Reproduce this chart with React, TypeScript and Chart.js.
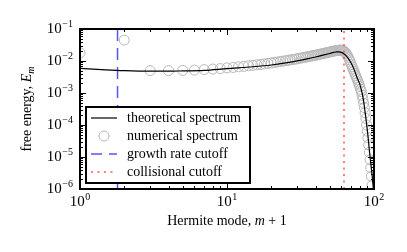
import React, { useEffect, useRef } from "react";
import { Chart, registerables } from "chart.js";

Chart.register(...registerables);

// ---- data ----
const numericalModes = [
  1, 2, 3, 4, 5, 6, 7, 8, 9, 10, 11, 12, 13, 14, 15, 16, 17, 18, 19, 20,
  21, 22, 23, 24, 25, 26, 27, 28, 29, 30, 31, 32, 33, 34, 35, 36, 37, 38, 39, 40,
  41, 42, 43, 44, 45, 46, 47, 48, 49, 50, 51, 52, 53, 54, 55, 56, 57, 58, 59, 60,
  61, 62, 63, 64, 65, 66, 67, 68, 69, 70, 71, 72, 73, 74, 75, 76, 77, 78, 79, 80,
  81, 82, 83, 84, 85, 86, 87, 88, 89, 90, 91, 92, 93, 94, 95, 96, 97, 98,
];
const numericalSpectrum = [
  0.018, 0.045, 0.005, 0.005, 0.0051, 0.0052, 0.0054, 0.0056, 0.0058, 0.0061,
  0.0063, 0.0066, 0.0068, 0.0071, 0.0073, 0.0076, 0.0078, 0.0081, 0.0084, 0.0087,
  0.009, 0.0093, 0.0096, 0.0099, 0.0102, 0.0105, 0.0108, 0.0111, 0.0114, 0.0117,
  0.0121, 0.0124, 0.0128, 0.0131, 0.0135, 0.0138, 0.0141, 0.0145, 0.0148, 0.0151,
  0.0155, 0.0159, 0.0163, 0.0167, 0.0171, 0.0175, 0.0179, 0.0183, 0.0187, 0.0191,
  0.0195, 0.0199, 0.0203, 0.0207, 0.021, 0.0213, 0.0216, 0.0218, 0.0219, 0.0218,
  0.0214, 0.0207, 0.0196, 0.0182, 0.0165, 0.0147, 0.0128, 0.011, 0.0093, 0.0078,
  0.0066, 0.0056, 0.0048, 0.0041, 0.0035, 0.003, 0.0026, 0.0022, 0.0019, 0.0016,
  0.0013, 0.0011, 0.00085, 0.00065, 0.00048, 0.00035, 0.00024, 0.00016, 0.0001, 0.000064,
  0.00004, 0.000024, 0.000014, 0.0000082, 0.0000046, 0.0000025, 0.0000013, 0.0000007,
];
const theoryModes = [
  1, 1.5, 2, 3, 4, 5, 7, 10, 15, 20, 25, 30, 35, 40, 45, 50, 53, 56, 58, 60,
  62, 64, 66, 68, 70, 72, 74, 77, 80, 83, 85, 87, 89, 91, 93, 95, 97, 99, 100,
];
const theorySpectrum = [
  0.0059, 0.0053, 0.005, 0.0048, 0.0048, 0.0049, 0.0051, 0.0058, 0.0066, 0.0075,
  0.0087, 0.0101, 0.0116, 0.0133, 0.0152, 0.0172, 0.0185, 0.0194, 0.0193, 0.0186,
  0.0172, 0.0152, 0.013, 0.0107, 0.0085, 0.0065, 0.0048, 0.0029, 0.0019, 0.001,
  0.00055, 0.00025, 0.00011, 0.000045, 0.000016, 0.0000065, 0.0000028, 0.000001, 0.0000006,
];
const growthRateCutoff = 1.8;
const collisionalCutoff = 62.5;

const xRange = [1, 100];
const yRange = [1e-6, 1e-1];
const xTickValues = [1, 10, 100];
const xTickExponents = ["0", "1", "2"];
const yTickValues = [1e-6, 1e-5, 1e-4, 1e-3, 1e-2, 1e-1];
const yTickExponents = ["\u22126", "\u22125", "\u22124", "\u22123", "\u22122", "\u22121"];
const seriesLabels = [
  "theoretical spectrum",
  "numerical spectrum",
  "growth rate cutoff",
  "collisional cutoff",
];

// ---- styles ----
const SERIF = '"Liberation Serif", "DejaVu Serif", serif';
const GREY = "#b8b8b8";
const BLUE = "#5555ff";
const RED = "#ff5555";
const BLUE_DASH = [12, 7];
const RED_DASH = [2, 4.5];

function drawPower(ctx: CanvasRenderingContext2D, exp: string, x: number, baseline: number, align: "center" | "right") {
  const baseFont = `15px ${SERIF}`;
  const expFont = `10px ${SERIF}`;
  ctx.font = baseFont;
  const wb = ctx.measureText("10").width;
  ctx.font = expFont;
  const we = ctx.measureText(exp).width;
  const total = wb + we + 0.5;
  const start = align === "center" ? x - total / 2 : x - total;
  ctx.textAlign = "left";
  ctx.textBaseline = "alphabetic";
  ctx.fillStyle = "#000";
  ctx.font = baseFont;
  ctx.fillText("10", start, baseline);
  ctx.font = expFont;
  ctx.fillText(exp, start + wb + 0.5, baseline - 6);
}

function drawParts(ctx: CanvasRenderingContext2D, parts: { t: string; font: string; dy?: number }[], cx: number, baseline: number) {
  let total = 0;
  for (const p of parts) {
    ctx.font = p.font;
    total += ctx.measureText(p.t).width;
  }
  let x = cx - total / 2;
  ctx.textAlign = "left";
  ctx.textBaseline = "alphabetic";
  ctx.fillStyle = "#000";
  for (const p of parts) {
    ctx.font = p.font;
    ctx.fillText(p.t, x, baseline + (p.dy || 0));
    x += ctx.measureText(p.t).width;
  }
}

const decorPlugin = {
  id: "decor",
  afterDatasetsDraw(chart: any) {
    const { ctx, chartArea: a, scales } = chart;
    const xs = scales.x;
    const ys = scales.y;
    ctx.save();

    // ticks (inward, all four sides)
    ctx.strokeStyle = "#000";
    ctx.lineWidth = 1;
    ctx.beginPath();
    const xDecadeStarts = [1, 10];
    for (const d of xDecadeStarts) {
      for (let k = 1; k <= 9; k++) {
        const v = d * k;
        const px = Math.round(xs.getPixelForValue(v)) + 0.5;
        const len = k === 1 ? 6 : 3;
        ctx.moveTo(px, a.bottom);
        ctx.lineTo(px, a.bottom - len);
        ctx.moveTo(px, a.top);
        ctx.lineTo(px, a.top + len);
      }
    }
    const yDecadeStarts = [1e-6, 1e-5, 1e-4, 1e-3, 1e-2];
    for (const d of yDecadeStarts) {
      for (let k = 1; k <= 9; k++) {
        const v = d * k;
        const py = Math.round(ys.getPixelForValue(v)) + 0.5;
        const len = k === 1 ? 6 : 3;
        ctx.moveTo(a.left, py);
        ctx.lineTo(a.left + len, py);
        ctx.moveTo(a.right, py);
        ctx.lineTo(a.right - len, py);
      }
    }
    ctx.stroke();

    // frame
    ctx.lineWidth = 2;
    ctx.strokeRect(a.left, a.top, a.right - a.left, a.bottom - a.top);

    // tick labels
    xTickValues.forEach((v, i) => {
      drawPower(ctx, xTickExponents[i], xs.getPixelForValue(v), a.bottom + 17, "center");
    });
    yTickValues.forEach((v, i) => {
      drawPower(ctx, yTickExponents[i], a.left - 7, ys.getPixelForValue(v) + 3.5, "right");
    });

    // axis titles
    const rom = `14px ${SERIF}`;
    const ita = `italic 14px ${SERIF}`;
    const itaSmall = `italic 10px ${SERIF}`;
    drawParts(
      ctx,
      [
        { t: "Hermite mode, ", font: rom },
        { t: "m", font: ita },
        { t: " + 1", font: rom },
      ],
      (a.left + a.right) / 2,
      225
    );
    ctx.save();
    ctx.translate(31, (a.top + a.bottom) / 2);
    ctx.rotate(-Math.PI / 2);
    drawParts(
      ctx,
      [
        { t: "free energy, ", font: rom },
        { t: "E", font: ita },
        { t: "m", font: itaSmall, dy: 3 },
      ],
      0,
      0
    );
    ctx.restore();

    // legend
    const lx = a.left + 6;
    const ly = a.bottom - 82;
    const lw = 164;
    const lh = 76;
    ctx.fillStyle = "#fff";
    ctx.fillRect(lx, ly, lw, lh);
    ctx.lineWidth = 2;
    ctx.strokeStyle = "#000";
    ctx.strokeRect(lx, ly, lw, lh);
    const sx0 = lx + 5;
    const sx1 = lx + 31;
    seriesLabels.forEach((label, i) => {
      const ry = ly + 11 + i * 18;
      ctx.save();
      if (i === 0) {
        ctx.strokeStyle = "#000";
        ctx.lineWidth = 1.2;
        ctx.beginPath();
        ctx.moveTo(sx0, ry);
        ctx.lineTo(sx1, ry);
        ctx.stroke();
      } else if (i === 1) {
        ctx.strokeStyle = GREY;
        ctx.lineWidth = 1;
        ctx.beginPath();
        ctx.arc((sx0 + sx1) / 2, ry, 5, 0, Math.PI * 2);
        ctx.stroke();
      } else if (i === 2) {
        ctx.strokeStyle = BLUE;
        ctx.lineWidth = 1.5;
        ctx.setLineDash([11, 7]);
        ctx.beginPath();
        ctx.moveTo(sx0, ry);
        ctx.lineTo(sx1, ry);
        ctx.stroke();
      } else {
        ctx.strokeStyle = RED;
        ctx.lineWidth = 1.5;
        ctx.setLineDash(RED_DASH);
        ctx.beginPath();
        ctx.moveTo(sx0, ry);
        ctx.lineTo(sx1, ry);
        ctx.stroke();
      }
      ctx.restore();
      ctx.fillStyle = "#000";
      ctx.font = `14px ${SERIF}`;
      ctx.textAlign = "left";
      ctx.textBaseline = "middle";
      ctx.fillText(label, lx + 41, ry + 0.5);
    });

    ctx.restore();
  },
};

export default function App() {
  const canvasRef = useRef<HTMLCanvasElement | null>(null);

  useEffect(() => {
    if (!canvasRef.current) return;
    const chart = new Chart(canvasRef.current, {
      type: "scatter",
      data: {
        datasets: [
          {
            label: seriesLabels[0],
            data: theoryModes.map((m, i) => ({ x: m, y: theorySpectrum[i] })),
            showLine: true,
            borderColor: "#000",
            borderWidth: 1.2,
            pointRadius: 0,
            cubicInterpolationMode: "monotone",
            order: 0,
            clip: 0,
          },
          {
            label: seriesLabels[3],
            data: [
              { x: collisionalCutoff, y: yRange[0] },
              { x: collisionalCutoff, y: yRange[1] },
            ],
            showLine: true,
            borderColor: RED,
            borderWidth: 1.5,
            borderDash: RED_DASH,
            pointRadius: 0,
            order: 1,
            clip: 0,
          },
          {
            label: seriesLabels[2],
            data: [
              { x: growthRateCutoff, y: yRange[1] },
              { x: growthRateCutoff, y: yRange[0] },
            ],
            showLine: true,
            borderColor: BLUE,
            borderWidth: 1.5,
            borderDash: BLUE_DASH,
            pointRadius: 0,
            order: 2,
            clip: 0,
          },
          {
            label: seriesLabels[1],
            data: numericalModes.map((m, i) => ({ x: m, y: numericalSpectrum[i] })),
            showLine: false,
            pointRadius: 5,
            pointBorderWidth: 1,
            pointBorderColor: GREY,
            pointBackgroundColor: "rgba(0,0,0,0)",
            order: 3,
            clip: 0,
          },
        ] as any,
      },
      options: {
        responsive: false,
        animation: false,
        events: [],
        layout: { padding: { top: 29, right: 33, left: 0, bottom: 0 } },
        plugins: {
          legend: { display: false },
          tooltip: { enabled: false },
        },
        scales: {
          x: {
            type: "logarithmic",
            min: xRange[0],
            max: xRange[1],
            grid: { display: false },
            border: { display: false },
            ticks: { display: false },
            afterFit: (s: any) => {
              s.height = 63;
            },
          },
          y: {
            type: "logarithmic",
            min: yRange[0],
            max: yRange[1],
            grid: { display: false },
            border: { display: false },
            ticks: { display: false },
            afterFit: (s: any) => {
              s.width = 80;
            },
          },
        } as any,
      },
      plugins: [decorPlugin],
    });
    return () => chart.destroy();
  }, []);

  return (
    <div style={{ position: "fixed", left: 0, top: 0, width: 407, height: 252, background: "#fff" }}>
      <canvas ref={canvasRef} width={407} height={252} style={{ display: "block" }} />
    </div>
  );
}
